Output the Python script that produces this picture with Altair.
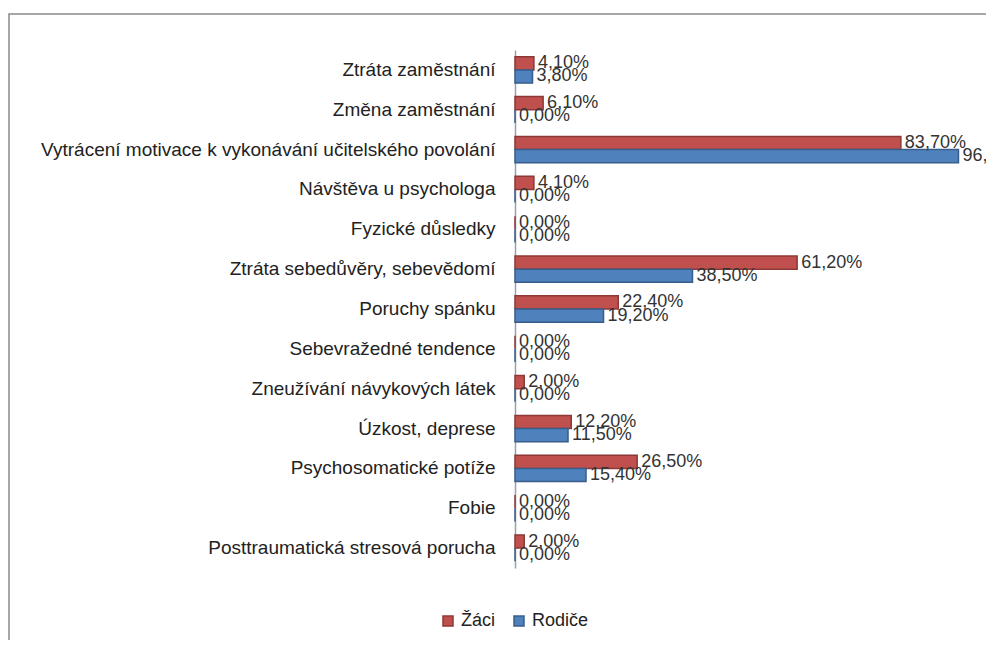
import altair as alt
import pandas as pd

categories = [
    "Ztráta zaměstnání",
    "Změna zaměstnání",
    "Vytrácení motivace k vykonávání učitelského povolání",
    "Návštěva u psychologa",
    "Fyzické důsledky",
    "Ztráta sebedůvěry, sebevědomí",
    "Poruchy spánku",
    "Sebevražedné tendence",
    "Zneužívání návykových látek",
    "Úzkost, deprese",
    "Psychosomatické potíže",
    "Fobie",
    "Posttraumatická stresová porucha",
]
zaci = [4.1, 6.1, 83.7, 4.1, 0.0, 61.2, 22.4, 0.0, 2.0, 12.2, 26.5, 0.0, 2.0]
rodice = [3.8, 0.0, 96.2, 0.0, 0.0, 38.5, 19.2, 0.0, 0.0, 11.5, 15.4, 0.0, 0.0]
series = ["Žáci", "Rodiče"]
colors = ["#C0504D", "#4F81BD"]
strokes = ["#8C3836", "#385D8A"]

rows = []
for c, a, b in zip(categories, zaci, rodice):
    rows.append({"cat": c, "series": series[0], "v": a})
    rows.append({"cat": c, "series": series[1], "v": b})
df = pd.DataFrame(rows)
df["label"] = df["v"].map(lambda x: f"{x:.2f}".replace(".", ",") + "%")

FONT = "Liberation Sans"

y = alt.Y("cat:N", sort=categories, title=None,
          scale=alt.Scale(paddingInner=0.34, paddingOuter=0.17),
          axis=alt.Axis(labelFont=FONT, labelFontSize=19, labelColor="#222222",
                        labelLimit=600, labelPadding=20, ticks=False,
                        domainColor="#9aa0aa", domainWidth=1.5))
x = alt.X("v:Q", title=None, scale=alt.Scale(domain=[0, 100]), axis=None)
yoff = alt.YOffset("series:N", sort=series)

base = alt.Chart(df).encode(y=y, x=x, yOffset=yoff)

bars = base.mark_bar(strokeWidth=1.5).encode(
    color=alt.Color("series:N", sort=series,
                    scale=alt.Scale(domain=series, range=colors),
                    legend=alt.Legend(title=None, orient="none", direction="horizontal",
                                      legendX=-76, legendY=562,
                                      symbolType="square", symbolSize=100,
                                      labelFont=FONT, labelFontSize=18,
                                      labelColor="#222222", columnPadding=14)),
    stroke=alt.Stroke("series:N", sort=series,
                      scale=alt.Scale(domain=series, range=strokes), legend=None),
)

texts = base.mark_text(align="left", baseline="middle", dx=4, font=FONT,
                       fontSize=18, color="#333333").encode(text="label:N")

# outer chart frame (decoration)
frame = alt.Chart(pd.DataFrame({"f": [0]})).mark_rect(
    fillOpacity=0, stroke="#8a8a8a", strokeWidth=1.5
).encode(x=alt.value(-506), x2=alt.value(1000), y=alt.value(-36), y2=alt.value(700))

chart = (frame + bars + texts).properties(
    width=461, height=518,
    autosize=alt.AutoSizeParams(type="none"),
    padding={"left": 507, "top": 42, "right": 10, "bottom": 72},
).configure_view(stroke=None)

chart.save("out.html", embed_options={"renderer": "svg", "actions": False})
